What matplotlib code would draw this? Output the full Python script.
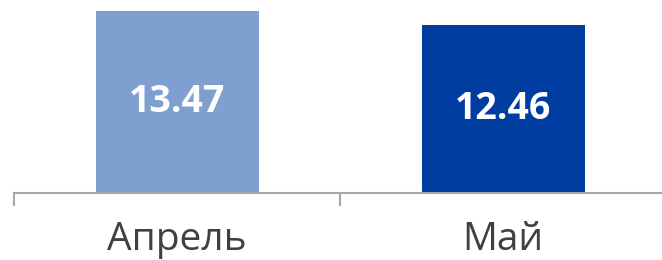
import matplotlib
matplotlib.use("Agg")
import matplotlib.pyplot as plt

months = ["Апрель", "Май"]
values = [13.47, 12.46]
colors = ["#7F9FD0", "#003DA0"]

fig = plt.figure(figsize=(6.62, 2.6), dpi=100)
ax = fig.add_axes([14 / 662, 67 / 260, 652 / 662, 193 / 260])

x = list(range(len(months)))
bars = ax.bar(x, values, width=0.5, color=colors)

for b, v in zip(bars, values):
    ax.text(b.get_x() + b.get_width() / 2, v / 2, f"{v:.2f}",
            ha="center", va="center", color="white",
            fontsize=27, fontweight="bold", family="Open Sans")

ax.set_xlim(-0.5, 1.5)
ax.set_ylim(0, 193 / (182 / 13.47))

for s in ["top", "right", "left"]:
    ax.spines[s].set_visible(False)
ax.spines["bottom"].set_color("#A6A6A6")
ax.spines["bottom"].set_linewidth(1.5)
ax.set_yticks([])

ax.set_xticks(x)
ax.set_xticklabels(months, fontsize=28, color="#404040", family="Open Sans")
ax.tick_params(axis="x", which="major", length=0, pad=20)
ax.set_xticks([-0.5, 0.5, 1.5], minor=True)
ax.tick_params(axis="x", which="minor", length=9, width=1.5, color="#A6A6A6")

fig.savefig("out.png", dpi=100)
